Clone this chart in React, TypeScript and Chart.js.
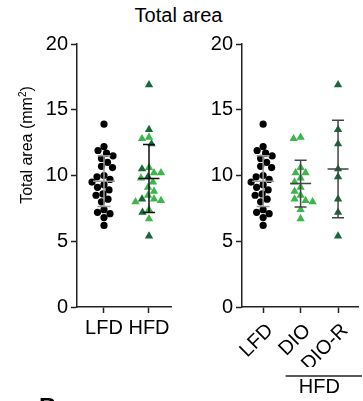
import React, { useEffect, useRef } from 'react';
import { Chart, registerables } from 'chart.js';

Chart.register(...registerables);

const FONT = "'Liberation Sans', Arial, Helvetica, sans-serif";

// ---- data ----
const leftCategories = ['LFD', 'HFD'];
const rightCategories = ['LFD', 'DIO', 'DIO-R'];
const yTickValues = [0, 5, 10, 15, 20];

const lfdValues = [13.9, 12.2, 11.9, 11.7, 11.5, 11.3, 11.0, 10.7, 10.6, 10.0, 9.9, 9.7, 9.5, 9.3, 9.1, 8.9, 8.6, 8.5, 8.2, 8.0, 7.4, 7.2, 7.1, 6.8, 6.2];
const dioValues = [12.9, 12.8, 10.6, 10.2, 10.2, 9.8, 9.5, 9.1, 8.8, 8.5, 8.2, 8.1, 8.0, 7.4, 6.7];
const dioRValues = [16.9, 13.5, 12.4, 10.5, 9.9, 8.2, 7.2, 5.4];

const BLACK = '#000000';
const LIGHT_GREEN = '#3cb54a';
const DARK_GREEN = '#17693a';
const AXIS = '#222222';

type Group = { cat: number; values: number[]; color: string; half: number; cap: number };

const makeSwarmPlugin = (diameter: number) => ({
  id: 'swarm',
  afterDatasetsUpdate(chart: any) {
    const groups = new Map<number, any[]>();
    chart.data.datasets.forEach((ds: any, di: number) => {
      const meta = chart.getDatasetMeta(di);
      meta.data.forEach((el: any, i: number) => {
        const c = ds.data[i].x;
        if (!groups.has(c)) groups.set(c, []);
        groups.get(c)!.push(el);
      });
    });
    const xs = chart.scales.x;
    groups.forEach((els, c) => {
      const base = xs.getPixelForValue(c);
      const sorted = [...els].sort((a, b) => a.y - b.y);
      const placed: { x: number; y: number }[] = [];
      sorted.forEach((el) => {
        let best = 0;
        for (let k = 0; k < 80; k++) {
          const off = (k % 2 === 0 ? 1 : -1) * Math.ceil(k / 2) * 0.5;
          const ok = placed.every((p) => (p.x - (base + off)) ** 2 + (p.y - el.y) ** 2 >= diameter * diameter);
          if (ok) {
            best = off;
            break;
          }
        }
        el.x = base + best;
        placed.push({ x: el.x, y: el.y });
      });
    });
  },
});

const makeErrorBarPlugin = (groups: Group[]) => ({
  id: 'errorBars',
  afterDatasetsDraw(chart: any) {
    const { ctx } = chart;
    const xs = chart.scales.x;
    const ys = chart.scales.y;
    groups.forEach((g) => {
      const n = g.values.length;
      const mean = g.values.reduce((a, b) => a + b, 0) / n;
      const sd = Math.sqrt(g.values.reduce((a, b) => a + (b - mean) ** 2, 0) / (n - 1));
      const cx = xs.getPixelForValue(g.cat);
      const yM = ys.getPixelForValue(mean);
      const yT = ys.getPixelForValue(mean + sd);
      const yB = ys.getPixelForValue(mean - sd);
      ctx.save();
      ctx.strokeStyle = g.color;
      ctx.lineWidth = 1.5;
      ctx.beginPath();
      ctx.moveTo(cx - g.half, yM);
      ctx.lineTo(cx + g.half, yM);
      ctx.moveTo(cx, yT);
      ctx.lineTo(cx, yB);
      ctx.moveTo(cx - g.cap, yT);
      ctx.lineTo(cx + g.cap, yT);
      ctx.moveTo(cx - g.cap, yB);
      ctx.lineTo(cx + g.cap, yB);
      ctx.stroke();
      ctx.restore();
    });
  },
});

const pts = (values: number[], cat: number) => values.map((v) => ({ x: cat, y: v }));

const circleDs = (values: number[], cat: number, color: string) => ({
  data: pts(values, cat),
  pointStyle: 'circle',
  pointRadius: 3.6,
  pointBackgroundColor: color,
  pointBorderWidth: 0,
  showLine: false,
});

const triDs = (values: number[], cat: number, color: string) => ({
  data: pts(values, cat),
  pointStyle: 'triangle',
  pointRadius: 4.8,
  pointBackgroundColor: color,
  pointBorderWidth: 0,
  showLine: false,
});

function buildConfig(o: {
  cats: string[];
  xMin: number;
  xMax: number;
  datasets: any[];
  yWidth: number;
  padding: any;
  rotation: number;
  labelOffset: number;
  labelPadding: number;
  plugins: any[];
}) {
  return {
    type: 'scatter',
    data: { datasets: o.datasets },
    options: {
      animation: false,
      responsive: false,
      maintainAspectRatio: false,
      events: [],
      layout: { padding: o.padding },
      plugins: { legend: { display: false }, tooltip: { enabled: false }, title: { display: false } },
      scales: {
        x: {
          type: 'linear',
          min: o.xMin,
          max: o.xMax,
          afterBuildTicks: (s: any) => {
            s.ticks = o.cats.map((_, i) => ({ value: i }));
          },
          ticks: {
            callback: (_v: any, i: number) => o.cats[i],
            font: { family: FONT, size: 20 },
            color: BLACK,
            autoSkip: false,
            minRotation: o.rotation,
            maxRotation: o.rotation,
            padding: o.labelPadding,
            labelOffset: o.labelOffset,
          },
          grid: { display: true, drawOnChartArea: false, drawTicks: true, tickLength: 6, tickWidth: 1.5, tickColor: AXIS },
          border: { display: true, color: AXIS, width: 1.5 },
          afterFit: (s: any) => {
            s.height = 60;
            s.paddingLeft = 0;
            s.paddingRight = 0;
          },
        },
        y: {
          type: 'linear',
          min: 0,
          max: 20,
          afterBuildTicks: (s: any) => {
            s.ticks = yTickValues.map((v) => ({ value: v }));
          },
          ticks: {
            font: { family: FONT, size: 20 },
            color: BLACK,
            padding: 3,
          },
          grid: { display: true, drawOnChartArea: false, drawTicks: true, tickLength: 6, tickWidth: 1.5, tickColor: AXIS },
          border: { display: true, color: AXIS, width: 1.5 },
          afterFit: (s: any) => {
            s.width = o.yWidth;
            s.paddingTop = 0;
            s.paddingBottom = 0;
          },
        },
      },
    },
    plugins: o.plugins,
  } as any;
}

const yLabelPlugin = {
  id: 'yLabel',
  afterDraw(chart: any) {
    const { ctx } = chart;
    ctx.save();
    ctx.translate(28, 145);
    ctx.rotate(-Math.PI / 2);
    ctx.fillStyle = BLACK;
    ctx.textBaseline = 'middle';
    ctx.textAlign = 'left';
    const main = 'Total area (mm';
    ctx.font = `16px ${FONT}`;
    const w1 = ctx.measureText(main).width;
    const w3 = ctx.measureText(')').width;
    ctx.font = `10px ${FONT}`;
    const w2 = ctx.measureText('2').width;
    const total = w1 + w2 + w3;
    const x0 = -total / 2;
    ctx.font = `16px ${FONT}`;
    ctx.fillText(main, x0, 0);
    ctx.font = `10px ${FONT}`;
    ctx.fillText('2', x0 + w1, -5);
    ctx.font = `16px ${FONT}`;
    ctx.fillText(')', x0 + w1 + w2, 0);
    ctx.restore();
    // partial panel letter at the very bottom
    ctx.save();
    ctx.fillStyle = BLACK;
    ctx.font = `bold 24px ${FONT}`;
    ctx.textBaseline = 'alphabetic';
    ctx.textAlign = 'left';
    ctx.fillText('B', 39, 415);
    ctx.restore();
  },
};

const hfdBracketPlugin = {
  id: 'hfdBracket',
  afterDraw(chart: any) {
    const { ctx } = chart;
    const xs = chart.scales.x;
    const x1 = xs.getPixelForValue(0.6);
    const x2 = chart.width - 1;
    const cx = (xs.getPixelForValue(1) + xs.getPixelForValue(2)) / 2;
    ctx.save();
    ctx.strokeStyle = AXIS;
    ctx.lineWidth = 1.5;
    ctx.beginPath();
    ctx.moveTo(x1, 376);
    ctx.lineTo(x2, 376);
    ctx.stroke();
    ctx.fillStyle = BLACK;
    ctx.font = `20px ${FONT}`;
    ctx.textAlign = 'center';
    ctx.textBaseline = 'middle';
    ctx.fillText('HFD', cx, 387);
    ctx.restore();
  },
};

export default function App() {
  const leftRef = useRef<HTMLCanvasElement>(null);
  const rightRef = useRef<HTMLCanvasElement>(null);

  useEffect(() => {
    const left = new Chart(
      leftRef.current!,
      buildConfig({
        cats: leftCategories,
        xMin: -0.6,
        xMax: 1.489,
        yWidth: 77,
        padding: { top: 44, right: 14, bottom: 34, left: 0 },
        rotation: 0,
        labelOffset: 0,
        labelPadding: 3,
        datasets: [
          circleDs(lfdValues, 0, BLACK),
          triDs(dioValues, 1, LIGHT_GREEN),
          triDs(dioRValues, 1, DARK_GREEN),
        ],
        plugins: [
          makeSwarmPlugin(7),
          makeErrorBarPlugin([
            { cat: 0, values: lfdValues, color: '#9a9a9a', half: 11, cap: 6.5 },
            { cat: 1, values: [...dioValues, ...dioRValues], color: '#111111', half: 10.5, cap: 6 },
          ]),
          yLabelPlugin,
        ],
      })
    );
    const right = new Chart(
      rightRef.current!,
      buildConfig({
        cats: rightCategories,
        xMin: -0.564,
        xMax: 2.538,
        yWidth: 57,
        padding: { top: 44, right: 0, bottom: 34, left: 0 },
        rotation: 45,
        labelOffset: 7,
        labelPadding: 6,
        datasets: [
          circleDs(lfdValues, 0, BLACK),
          triDs(dioValues, 1, LIGHT_GREEN),
          triDs(dioRValues, 2, DARK_GREEN),
        ],
        plugins: [
          makeSwarmPlugin(7),
          makeErrorBarPlugin([
            { cat: 0, values: lfdValues, color: '#9a9a9a', half: 11, cap: 6.5 },
            { cat: 1, values: dioValues, color: '#444444', half: 10.5, cap: 6 },
            { cat: 2, values: dioRValues, color: '#444444', half: 10.5, cap: 6 },
          ]),
          hfdBracketPlugin,
        ],
      })
    );
    return () => {
      left.destroy();
      right.destroy();
    };
  }, []);

  return (
    <div style={{ position: 'absolute', left: 0, top: 0, width: 363, height: 401, background: '#fff', overflow: 'hidden' }}>
      <div
        style={{
          position: 'absolute',
          left: 0,
          top: 3,
          width: 357,
          textAlign: 'center',
          fontFamily: FONT,
          fontSize: 20,
          lineHeight: '24px',
          color: BLACK,
        }}
      >
        Total area
      </div>
      <canvas ref={leftRef} width={185} height={401} style={{ position: 'absolute', left: 0, top: 0, width: 185, height: 401 }} />
      <canvas ref={rightRef} width={178} height={401} style={{ position: 'absolute', left: 185, top: 0, width: 178, height: 401 }} />
    </div>
  );
}
